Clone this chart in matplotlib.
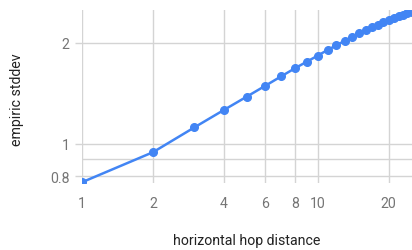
import matplotlib
matplotlib.use("Agg")
import matplotlib.pyplot as plt
from matplotlib.ticker import FixedLocator, NullFormatter, NullLocator

plt.rcParams['font.family'] = ['Roboto', 'DejaVu Sans']

hop_distance = list(range(1, 26))
stddev = [0.769, 0.945, 1.121, 1.263, 1.384, 1.492, 1.591, 1.681, 1.760, 1.834,
          1.906, 1.968, 2.030, 2.080, 2.135, 2.180, 2.228, 2.270, 2.310, 2.345,
          2.375, 2.405, 2.430, 2.455, 2.480]

x_ticks = [1, 2, 4, 6, 8, 10, 20]
x_tick_labels = ['1', '2', '4', '6', '8', '10', '20']
y_ticks = [0.8, 1, 2]
y_tick_labels = ['0.8', '1', '2']
y_minor = [0.9]

W, H = 412, 251
fig = plt.figure(figsize=(W / 100, H / 100), dpi=100)
left, right, top, bottom = 82, 412, 11, 184
ax = fig.add_axes([left / W, 1 - bottom / H, (right - left) / W, (bottom - top) / H])

ax.set_xscale('log')
ax.set_yscale('log')
ax.set_xlim(1, 25.1)
ax.set_ylim(0.765, 2.508)

grid_color = '#d4d4d4'
ax.xaxis.set_major_locator(FixedLocator(x_ticks))
ax.xaxis.set_minor_locator(NullLocator())
ax.set_xticklabels(x_tick_labels)
ax.xaxis.set_minor_formatter(NullFormatter())
ax.yaxis.set_major_locator(FixedLocator(y_ticks))
ax.yaxis.set_minor_locator(FixedLocator(y_minor))
ax.set_yticklabels(y_tick_labels)
ax.yaxis.set_minor_formatter(NullFormatter())

ax.grid(True, which='major', color=grid_color, linewidth=1.0)
ax.grid(True, which='minor', axis='y', color=grid_color, linewidth=1.0)
for s in ax.spines.values():
    s.set_visible(False)

ax.tick_params(axis='x', which='major', length=0, pad=9, labelsize=10.2, labelcolor='#757575')
ax.tick_params(axis='y', which='major', length=5, width=1.0, color=grid_color, pad=4,
               labelsize=10.2, labelcolor='#757575')
ax.tick_params(axis='y', which='minor', length=0)

ax.plot(hop_distance, stddev, color='#4285F4', linewidth=1.8, marker='o',
        markersize=5.5, clip_on=True, zorder=3)

fig.text(247 / W, 1 - 241 / H, 'horizontal hop distance', ha='center', va='center',
         fontsize=10.2, color='#222222')
fig.text(17 / W, 1 - 100 / H, 'empiric stddev', ha='center', va='center',
         rotation=90, fontsize=10.2, color='#222222')

fig.savefig('out.png', dpi=100)
